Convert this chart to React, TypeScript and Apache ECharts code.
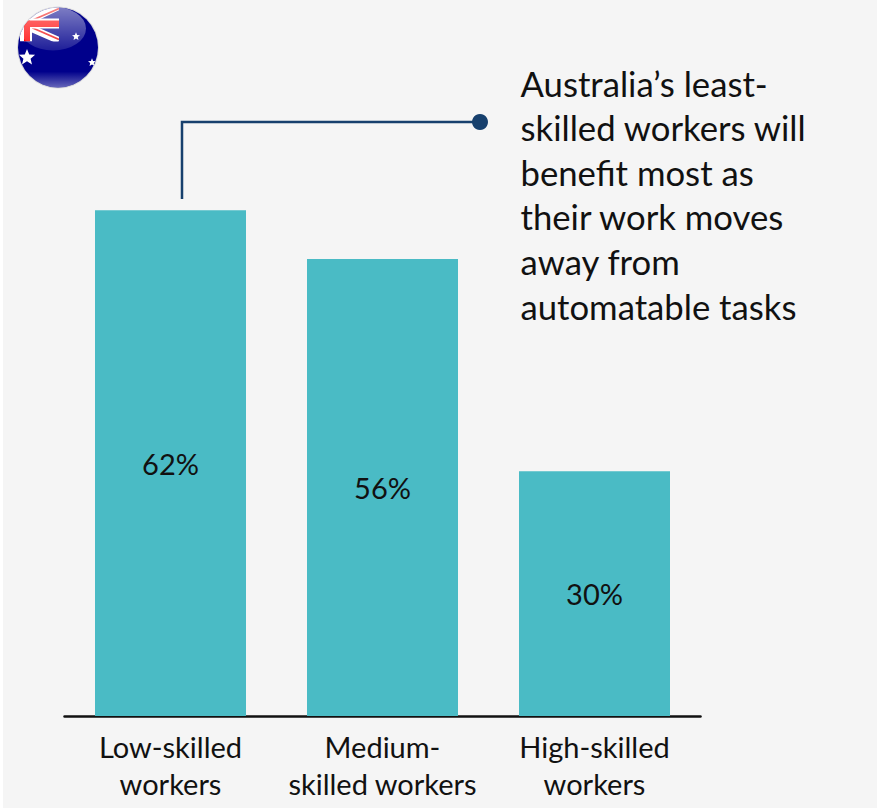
import React, { useEffect, useRef } from "react";
import * as echarts from "echarts";

const categories = ["Low-skilled\nworkers", "Medium-\nskilled workers", "High-skilled\nworkers"];
const shares = [62, 56, 30];
const calloutLines = [
  "Australia’s least-",
  "skilled workers will",
  "benefit most as",
  "their work moves",
  "away from",
  "automatable tasks",
];

const FONT = "Lato, Carlito, sans-serif";

// Glossy round Australian flag badge, as a self-contained vector image.
const flagSvg = `<svg xmlns="http://www.w3.org/2000/svg" width="84" height="84" viewBox="0 0 84 84">
<defs>
<clipPath id="c"><circle cx="42" cy="42" r="40"/></clipPath>
<clipPath id="u"><rect x="0" y="0" width="43" height="36"/></clipPath>
<linearGradient id="g" x1="0" y1="0" x2="0" y2="1"><stop offset="0" stop-color="#fff" stop-opacity=".5"/><stop offset="1" stop-color="#fff" stop-opacity=".12"/></linearGradient>
<linearGradient id="b" x1="0" y1="0" x2="0" y2="1"><stop offset=".8" stop-color="#fff" stop-opacity="0"/><stop offset="1" stop-color="#fff" stop-opacity=".4"/></linearGradient>
<polygon id="s" points="0,-10 2.6,-3.6 9.5,-3.1 4.2,1.4 5.9,8.1 0,4.5 -5.9,8.1 -4.2,1.4 -9.5,-3.1 -2.6,-3.6"/>
</defs>
<circle cx="42" cy="42" r="41" fill="#d8d8dc"/>
<g clip-path="url(#c)">
<rect width="84" height="84" fill="#00008b"/>
<g clip-path="url(#u)">
<path d="M11 16 L43 1 M11 21 L43 35" stroke="#fff" stroke-width="7"/>
<path d="M11 17 L43 3 M11 20 L43 34" stroke="#f01010" stroke-width="1.8"/>
<rect x="0" y="13" width="43" height="10" fill="#fff"/>
<rect x="4" y="13" width="12" height="23" fill="#fff"/>
<rect x="0" y="15" width="43" height="6.5" fill="#ff0000"/>
<rect x="8" y="15" width="6" height="21" fill="#ff0000"/>
</g>
<use href="#s" transform="translate(11 52) scale(.85)" fill="#fff"/>
<use href="#s" transform="translate(60 31) scale(.42)" fill="#fff"/>
<use href="#s" transform="translate(76 57) scale(.42)" fill="#fff"/>
<ellipse cx="37" cy="23" rx="33" ry="22" fill="url(#g)"/>
<circle cx="42" cy="42" r="40" fill="url(#b)"/>
</g>
</svg>`;
const flagUri = "data:image/svg+xml;charset=utf-8," + encodeURIComponent(flagSvg);

export default function App() {
  const ref = useRef<HTMLDivElement>(null);

  useEffect(() => {
    const chart = echarts.init(ref.current!, undefined, { renderer: "svg" });
    chart.setOption({
      animation: false,
      backgroundColor: "#f5f5f5",
      grid: { left: 64.5, right: 176.5, top: 100, bottom: 92 },
      xAxis: {
        type: "category",
        data: categories,
        axisTick: { show: false },
        axisLine: { lineStyle: { color: "#111111", width: 2.5 } },
        axisLabel: {
          color: "#111111",
          fontFamily: FONT,
          fontSize: 29,
          lineHeight: 37,
          margin: 12,
          interval: 0,
        },
      },
      yAxis: { type: "value", min: 0, max: 75.5, show: false },
      series: [
        {
          type: "bar",
          data: shares,
          barWidth: 151,
          itemStyle: { color: "#4abbc5" },
          label: {
            show: true,
            position: "inside",
            formatter: "{c}%",
            color: "#111111",
            fontFamily: FONT,
            fontSize: 29,
          },
        },
      ],
      graphic: [
        { type: "rect", shape: { x: 0, y: 0, width: 3, height: 808 }, style: { fill: "#ffffff" } },
        { type: "image", x: 16, y: 5.5, style: { image: flagUri, width: 84, height: 84 } },
        {
          type: "polyline",
          shape: { points: [[182, 199], [182, 122], [480, 122]] },
          style: { stroke: "#17406d", lineWidth: 2.5, fill: "none" },
        },
        { type: "circle", shape: { cx: 480, cy: 122, r: 8 }, style: { fill: "#17406d" } },
        ...calloutLines.map((line, i) => ({
          type: "text",
          x: 520.5,
          y: 83 + i * 44.6,
          style: {
            text: line,
            fill: "#111111",
            font: `34.7px ${FONT}`,
            textVerticalAlign: "middle",
          },
        })),
      ],
    });
    return () => chart.dispose();
  }, []);

  return <div ref={ref} style={{ position: "absolute", left: 0, top: 0, width: 877, height: 808 }} />;
}
